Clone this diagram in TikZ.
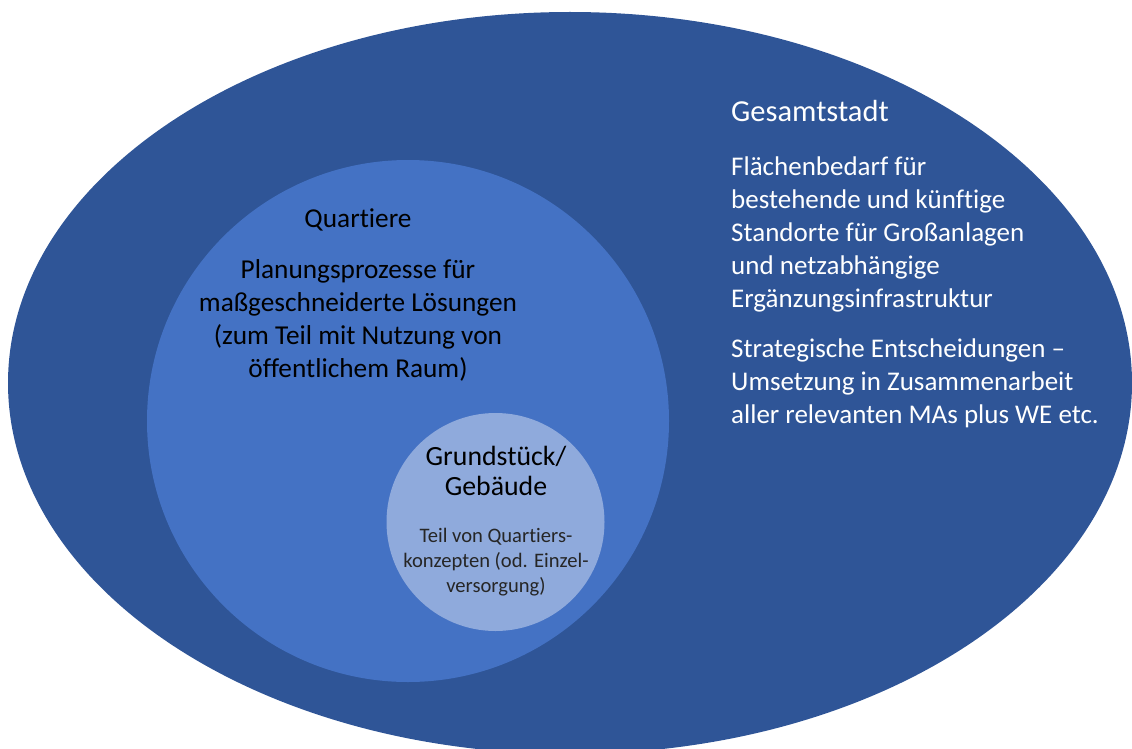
\documentclass[tikz,border=0pt]{standalone}
\usepackage{fontspec}
\setmainfont{Carlito}[Ligatures=NoCommon]
\definecolor{outerblue}{HTML}{2F5597}
\definecolor{midblue}{HTML}{4472C4}
\definecolor{innerblue}{HTML}{8FAADC}
\tikzset{
  outerlbl/.style={text=white, inner sep=0pt, align=left, font=\fontsize{27}{33}\selectfont},
  outertitle/.style={text=white, inner sep=0pt, align=left, font=\fontsize{30.5}{36}\selectfont},
  midlbl/.style={text=black, inner sep=0pt, align=center, font=\fontsize{27.3}{33}\selectfont},
  innertitle/.style={text=black, inner sep=0pt, align=center, font=\fontsize{27.8}{30}\selectfont},
  innertext/.style={text=black!85, inner sep=0pt, align=center, font=\fontsize{20.6}{25}\selectfont},
}
\begin{document}
\begin{tikzpicture}[x=1pt,y=-1pt]
\useasboundingbox (0,0) rectangle (1132,749);
\clip (0,0) rectangle (1132,749);
\fill[outerblue] (570,383) ellipse [x radius=562, y radius=371];
\fill[midblue] (408,421) circle [radius=261];
\fill[innerblue] (495.5,522) circle [radius=109];
% base anchor of a multi-line node = baseline of its last line
\node[outertitle, anchor=base west] (gtitle) at (731,122) {Gesamtstadt};
\node[outerlbl, anchor=base west] (gpara1) at (731,307) {Flächenbedarf für\\bestehende und künftige\\Standorte für Großanlagen\\und netzabhängige\\Ergänzungsinfrastruktur};
\node[outerlbl, anchor=base west] (gpara2) at (731,423) {Strategische Entscheidungen –\\Umsetzung in Zusammenarbeit\\aller relevanten MAs plus WE etc.};
\node[midlbl, anchor=base] (qtitle) at (358,227) {Quartiere};
\node[midlbl, anchor=base] (qpara) at (358,377) {Planungsprozesse für\\maßgeschneiderte Lösungen\\(zum Teil mit Nutzung von\\öffentlichem Raum)};
\node[innertitle, anchor=base] (btitle) at (496,495) {Grundstück/\\Gebäude};
\node[innertext, anchor=base] (bpara) at (496,592) {Teil von Quartiers-\\konzepten (od. Einzel-\\versorgung)};
\end{tikzpicture}
\end{document}
